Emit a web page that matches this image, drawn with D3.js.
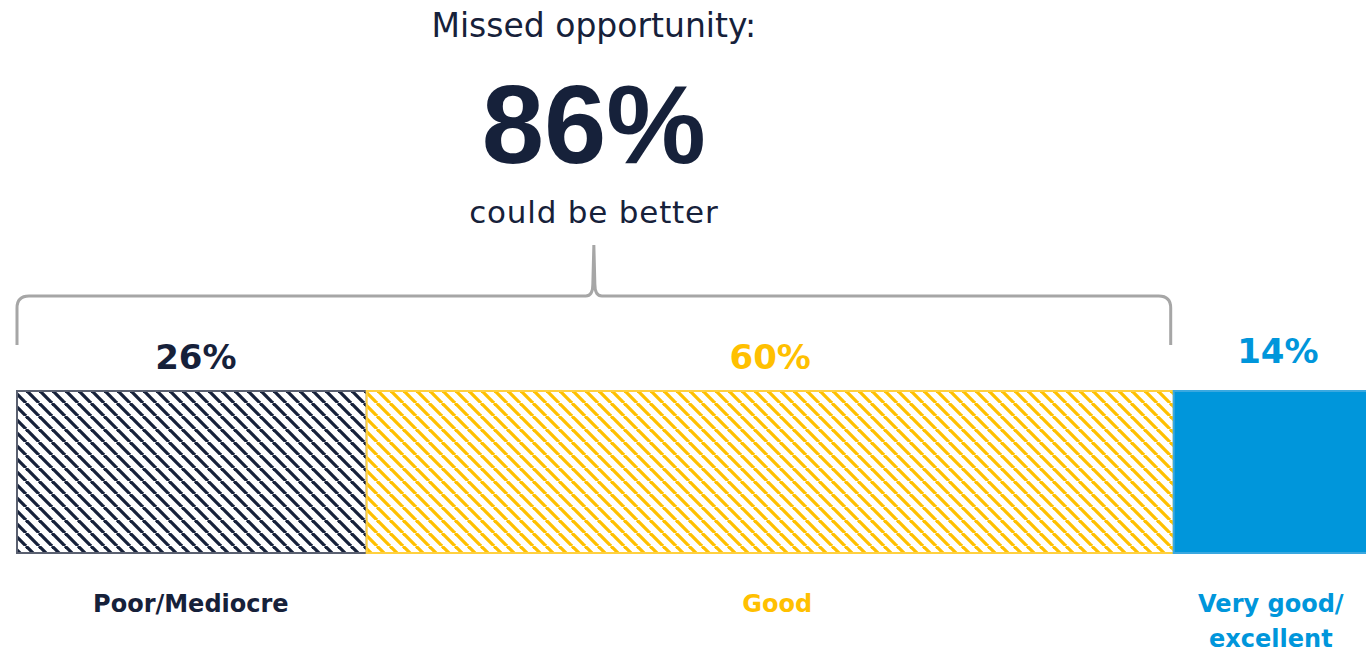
<!DOCTYPE html>
<html>
<head>
<meta charset="utf-8">
<script src="https://cdn.jsdelivr.net/npm/d3@7"></script>
<style>
  body { margin: 0; background: #fff; }
  svg { display: block; }
</style>
</head>
<body>
<svg id="chart" width="1366" height="654"></svg>
<script>
const categories = ["Poor/Mediocre", "Good", "Very good/excellent"];
const labelLines = [["Poor/Mediocre"], ["Good"], ["Very good/", "excellent"]];
const values = [26, 60, 14];
const colors = ["#16213a", "#ffc000", "#0096db"];
const patterns = ["hatch-navy", "hatch-gold", null];
const headline = { title: "Missed opportunity:", big: "86%", sub: "could be better" };

const wide = "'DejaVu Sans', Verdana, sans-serif";
const narrow = "'Liberation Sans', Arial, sans-serif";
const svg = d3.select("#chart");

const x = d3.scaleLinear().domain([0, 100]).range([17, 1362]);
const barTop = 391, barH = 162;

// hatch patterns
const defs = svg.append("defs");
function hatch(id, color) {
    const w = 13;
    const p = defs.append("pattern")
        .attr("id", id)
        .attr("patternUnits", "userSpaceOnUse")
        .attr("width", w)
        .attr("height", w);
    p.append("rect").attr("width", w).attr("height", w).attr("fill", "#fff");
    // "\" direction stripes
    [-w, 0, w].forEach(o => {
        p.append("line")
            .attr("x1", o).attr("y1", 0)
            .attr("x2", o + w).attr("y2", w)
            .attr("stroke", color)
            .attr("stroke-width", 3.3);
    });
}
hatch("hatch-navy", colors[0]);
hatch("hatch-gold", colors[1]);

let acc = 0;
const segs = values.map((v, i) => {
    const s = { v, i, x0: acc, x1: acc + v };
    acc += v;
    return s;
});

svg.selectAll("rect.seg")
    .data(segs)
    .join("rect")
    .attr("class", "seg")
    .attr("x", d => x(d.x0))
    .attr("y", barTop)
    .attr("width", d => x(d.x1) - x(d.x0) + (d.i === 2 ? 6 : 0))
    .attr("height", barH)
    .attr("fill", d => patterns[d.i] ? `url(#${patterns[d.i]})` : colors[d.i])
    .attr("stroke", d => d.i === 0 ? "#5a6070" : (d.i === 1 ? "#ffd040" : "#3aa8e0"))
    .attr("stroke-width", 2);

// value labels
svg.selectAll("text.val")
    .data(segs)
    .join("text")
    .attr("class", "val")
    .attr("x", d => (x(d.x0) + x(d.x1)) / 2 + (d.i === 0 ? 4 : (d.i === 2 ? 10 : 0)))
    .attr("y", d => d.i === 2 ? 363 : 369)
    .attr("text-anchor", "middle")
    .attr("fill", d => colors[d.i])
    .style("font-family", wide)
    .style("font-weight", "bold")
    .style("font-size", "34px")
    .text(d => d.v + "%");

// category labels
const cat = svg.selectAll("text.cat")
    .data(segs)
    .join("text")
    .attr("class", "cat")
    .attr("text-anchor", "middle")
    .attr("fill", d => colors[d.i])
    .style("font-family", wide)
    .style("font-weight", "bold")
    .style("font-size", "24px");
cat.selectAll("tspan")
    .data(d => labelLines[d.i].map((t, k) => ({ t, k, d })))
    .join("tspan")
    .attr("x", e => (x(e.d.x0) + x(e.d.x1)) / 2 + (e.d.i === 2 ? 3 : (e.d.i === 1 ? 7 : -1)))
    .attr("y", e => 612 + e.k * 35)
    .text(e => e.t);

// bracket over the "could be better" share
const bx0 = x(0), bx1 = x(values[0] + values[1]) - 3;
const bmid = (bx0 + bx1) / 2;
const legBot = 345, by = 296, peak = 245, r = 12;
const path = d3.path();
path.moveTo(bx0, legBot);
path.lineTo(bx0, by + r);
path.quadraticCurveTo(bx0, by, bx0 + r, by);
path.lineTo(bmid - 8, by);
path.quadraticCurveTo(bmid - 1, by, bmid - 1, by - 12);
path.lineTo(bmid, peak);
path.lineTo(bmid + 1, by - 12);
path.quadraticCurveTo(bmid + 1, by, bmid + 8, by);
path.lineTo(bx1 - r, by);
path.quadraticCurveTo(bx1, by, bx1, by + r);
path.lineTo(bx1, legBot);
svg.append("path")
    .attr("d", path.toString())
    .attr("fill", "none")
    .attr("stroke", "#a6a6a6")
    .attr("stroke-width", 3);

// headline
const head = svg.append("g").attr("fill", "#16213a").attr("text-anchor", "middle");
head.append("text").attr("x", bmid).attr("y", 37)
    .style("font-family", wide).style("font-size", "33px").text(headline.title);
head.append("text").attr("x", bmid).attr("y", 163)
    .style("font-family", narrow).style("font-size", "112px").style("font-weight", "bold").text(headline.big);
head.append("text").attr("x", bmid).attr("y", 223)
    .style("font-family", wide).style("font-size", "31px").style("letter-spacing", "0.8px").text(headline.sub);
</script>
</body>
</html>
